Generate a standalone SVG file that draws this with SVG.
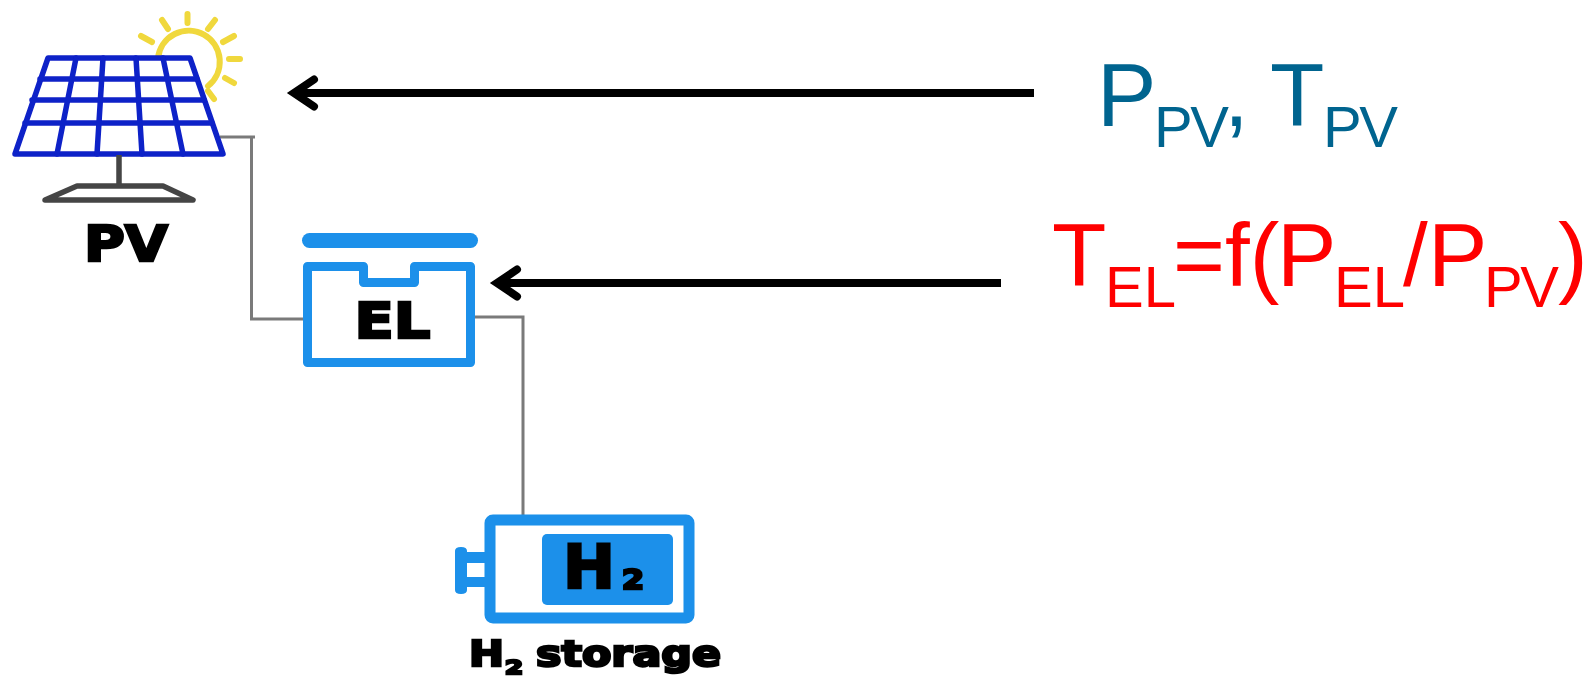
<svg xmlns="http://www.w3.org/2000/svg" width="1587" height="676" viewBox="0 0 1587 676">
<defs>
<style>
.wire{fill:none;stroke:#7a7a7a;stroke-width:3}
.arr{fill:none;stroke:#000;stroke-width:8;marker-start:url(#head)}
.b{fill:none;stroke:#1a90ea;stroke-linejoin:round;stroke-linecap:round}
.lab{font-family:"DejaVu Sans",sans-serif;font-weight:bold;fill:#000;stroke:#000;stroke-width:2.5}
.m{font-family:"Liberation Sans",Arial,sans-serif;font-size:89px}
.s{font-family:"Liberation Sans",Arial,sans-serif;font-size:58px}
.pv{letter-spacing:-2.5px}
.blue{fill:#00648f}.red{fill:#ff0000}
.grid{fill:none;stroke:#1020c8;stroke-width:5.5;stroke-linejoin:round;stroke-linecap:round}
.sun{fill:none;stroke:#f0d83c;stroke-width:6;stroke-linecap:round}
.stand{fill:none;stroke:#454545;stroke-width:5.5;stroke-linejoin:round}
</style>
<marker id="head" markerUnits="userSpaceOnUse" markerWidth="50" markerHeight="50" refX="7" refY="25" orient="auto" overflow="visible">
<path d="M27 11.500L7 25L27 38.500" fill="none" stroke="#000" stroke-width="8" stroke-linecap="round" stroke-linejoin="miter"/>
</marker>
<filter id="soft" x="-5%" y="-5%" width="110%" height="110%"><feGaussianBlur stdDeviation="0.7"/></filter>
</defs>
<rect width="1587" height="676" fill="#fff"/>
<g id="connectors">
<g filter="url(#soft)">
<path class="wire" d="M220 137H255M251.500 137V319H303"/>
<path class="wire" d="M475 317H523V515"/>
</g>
<path class="arr" d="M294 93H1034"/>
<path class="arr" d="M497 283H1001"/>
</g>
<g id="pv" filter="url(#soft)">
<path class="sun" d="M158 58A31 31 0 1 1 208 86"/>
<path class="sun" d="M187.500 14V23M162 20L168 29M215 20L208 29M141 36L152 42M234 36L223 42M229 59H240M225 78L234 83M208 91L214 99"/>
<path d="M48 58H190L223 154H15Z" fill="#fff" stroke="#1020c8" stroke-width="5.500" stroke-linejoin="round"/>
<path class="grid" d="M40 79H197M32 100H204M25 123H212M76 58L57 154M103 58L97 154M136 58L142 154M163 58L183 154"/>
<path class="stand" d="M119 155V186M45 200L77 186H163L193 200Z"/>
<text class="lab" x="126" y="261" font-size="50" text-anchor="middle" textLength="84" lengthAdjust="spacingAndGlyphs">PV</text>
</g>
<g id="el" filter="url(#soft)">
<rect x="302" y="233" width="176" height="15" rx="7.500" fill="#1a90ea"/>
<path class="b" stroke-width="9" d="M307.500 266.500H363.500V282.500H414.500V266.500H470.500V362.500H307.500Z"/>
<text class="lab" x="392.500" y="338" font-size="50" text-anchor="middle" textLength="76" lengthAdjust="spacingAndGlyphs">EL</text>
</g>
<g id="h2-storage" filter="url(#soft)">
<rect x="490" y="520" width="199" height="98" rx="3" class="b" stroke-width="11"/>
<rect x="542" y="534" width="131" height="71" rx="5" fill="#1a90ea"/>
<path d="M485 552H467V551Q467 547 461 547Q455 547 455 551V590Q455 594 461 594Q467 594 467 590V587H485ZM467 563H485V577H467Z" fill="#1a90ea" fill-rule="evenodd"/>
<text class="lab" x="563" y="588" font-size="60" textLength="52" lengthAdjust="spacingAndGlyphs">H</text>
<text class="lab" x="622" y="589" font-size="26" stroke-width="1" textLength="22" lengthAdjust="spacingAndGlyphs">2</text>
<text class="lab" x="469" y="666" font-size="36" stroke-width="1.5" textLength="35" lengthAdjust="spacingAndGlyphs">H</text>
<text class="lab" x="505" y="674" font-size="20" stroke-width="1" textLength="18" lengthAdjust="spacingAndGlyphs">2</text>
<text class="lab" x="536" y="666" font-size="36" stroke-width="1.5" textLength="185" lengthAdjust="spacingAndGlyphs">storage</text>
</g>
<g id="pv-label">
<text class="m blue" x="1097" y="126">P</text>
<text class="s blue pv" x="1154" y="147">PV</text>
<text class="m blue" x="1224" y="126">,</text>
<text class="m blue" x="1270" y="126">T</text>
<text class="s blue pv" x="1323" y="147">PV</text>
</g>
<g id="el-label">
<text class="m red" x="1052" y="286">T</text>
<text class="s red" x="1105" y="307">EL</text>
<text class="m red" x="1173" y="286">=f(</text>
<text class="m red" x="1277" y="286">P</text>
<text class="s red" x="1334" y="307">EL</text>
<text class="m red" x="1403" y="286">/</text>
<text class="m red" x="1428" y="286">P</text>
<text class="s red pv" x="1484" y="307">PV</text>
<text class="m red" x="1558" y="286">)</text>
</g>
</svg>
